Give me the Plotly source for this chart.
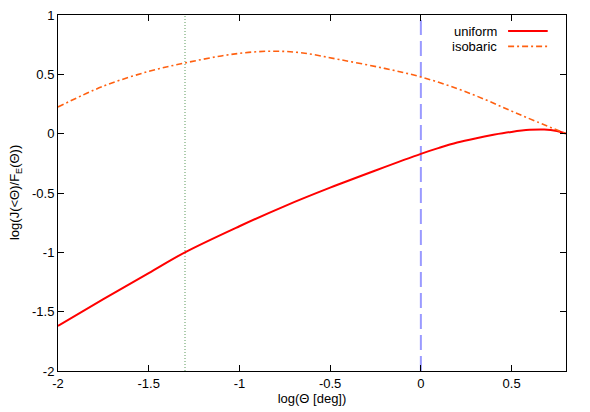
import plotly.graph_objects as go

# data (log theta, log ratio)
uniform_x = [-2.0, -1.75, -1.5, -1.3, -1.0, -0.75, -0.5, -0.25, 0.0, 0.1, 0.2, 0.3, 0.4, 0.5, 0.6, 0.68, 0.75, 0.8]
uniform_y = [-1.62, -1.395, -1.175, -1.0, -0.78, -0.61, -0.455, -0.31, -0.17, -0.12, -0.075, -0.04, -0.01, 0.015, 0.032, 0.035, 0.022, 0.0]
isobaric_x = [-2.0, -1.75, -1.5, -1.3, -1.1, -0.95, -0.8, -0.65, -0.45, -0.2, 0.0, 0.2, 0.36, 0.5, 0.64, 0.8]
isobaric_y = [0.225, 0.40, 0.525, 0.596, 0.655, 0.685, 0.695, 0.68, 0.625, 0.55, 0.478, 0.38, 0.284, 0.19, 0.10, 0.0]
vline_dotted = -1.3
vline_dashed = 0.0
xticks = [-2, -1.5, -1, -0.5, 0, 0.5]
xtick_text = ["-2", "-1.5", "-1", "-0.5", "0", "0.5"]
yticks = [-2, -1.5, -1, -0.5, 0, 0.5, 1]
ytick_text = ["-2", "-1.5", "-1", "-0.5", "0", "0.5", "1"]
series_names = ["uniform", "isobaric"]
y_title = "log(J(<Θ)/F<sub>E</sub>(Θ))"
x_title = "log(Θ [deg])"

font = "Liberation Sans, Arial, sans-serif"
red = "#ff0000"
orange = "#ff6010"

fig = go.Figure()
fig.add_trace(go.Scatter(x=[vline_dotted, vline_dotted], y=[-2, 1], mode="lines",
                         line=dict(color="#5a9a5a", width=1, dash="1px,2px"), showlegend=False))
fig.add_trace(go.Scatter(x=[vline_dashed, vline_dashed], y=[-2, 1], mode="lines",
                         line=dict(color="#9a9aff", width=2, dash="15px,6px"), showlegend=False))
fig.add_trace(go.Scatter(x=uniform_x, y=uniform_y, mode="lines", line_shape="spline",
                         line=dict(color=red, width=2), showlegend=False))
fig.add_trace(go.Scatter(x=isobaric_x, y=isobaric_y, mode="lines", line_shape="spline",
                         line=dict(color=orange, width=1.6, dash="6px,3px,2px,3px"), showlegend=False))

axis_common = dict(showgrid=False, zeroline=False, showline=True, linecolor="black", linewidth=1,
                   mirror="ticks", ticks="inside", ticklen=6, tickcolor="black", automargin=False,
                   ticklabeloverflow="allow",
                   tickfont=dict(family=font, size=13, color="black"))

fig.update_layout(
    width=590, height=412,
    margin=dict(l=50, r=32, t=7, b=49),
    plot_bgcolor="white", paper_bgcolor="white",
    xaxis=dict(range=[-2, 0.8], tickvals=xticks, ticktext=xtick_text,
               title=dict(text=x_title, font=dict(family=font, size=13, color="black"), standoff=3),
               **axis_common),
    yaxis=dict(range=[-2, 1], tickvals=yticks, ticktext=ytick_text, **axis_common),
)

fig.add_annotation(x=-0.0846, y=0.5, xref="paper", yref="paper", text=y_title, showarrow=False,
                   textangle=-90, xanchor="center", yanchor="middle",
                   font=dict(family=font, size=13, color="black"))

# legend (gnuplot style: text then sample)
legend_y = [0.955, 0.912]
legend_colors = [red, orange]
legend_dash = ["solid", "6px,3px,2px,3px"]
legend_w = [2, 1.6]
for name, ly, c, d, w in zip(series_names, legend_y, legend_colors, legend_dash, legend_w):
    fig.add_annotation(x=0.868, y=ly, xref="paper", yref="paper", text=name, showarrow=False,
                       xanchor="right", yanchor="middle", font=dict(family=font, size=13, color="black"))
    fig.add_shape(type="line", xref="paper", yref="paper", x0=0.886, x1=0.964, y0=ly, y1=ly,
                  line=dict(color=c, width=w, dash=d))

fig.write_html("out.html")
